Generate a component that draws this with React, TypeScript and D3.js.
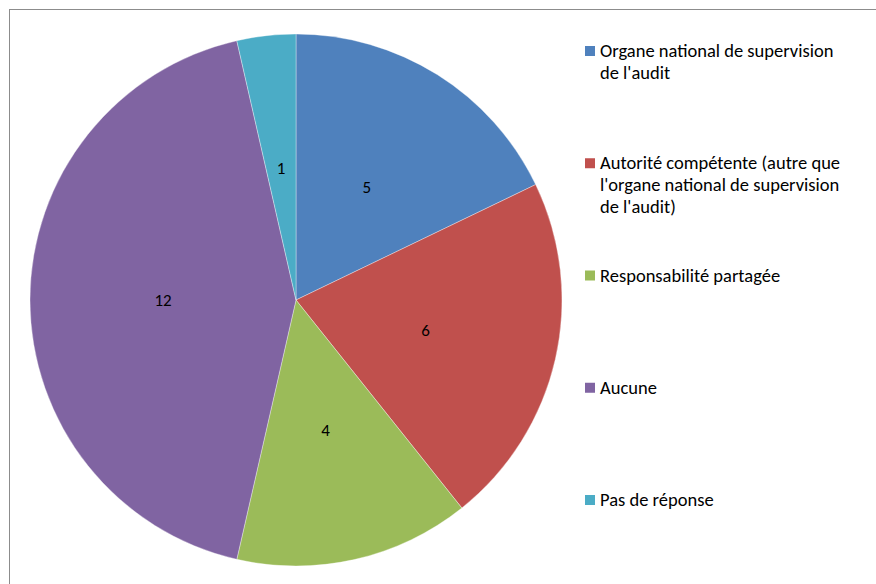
import React from "react";
import * as d3 from "d3";

const categories = [
  "Organe national de supervision de l'audit",
  "Autorité compétente (autre que l'organe national de supervision de l'audit)",
  "Responsabilité partagée",
  "Aucune",
  "Pas de réponse",
];
const legendLines = [
  ["Organe national de supervision", "de l'audit"],
  ["Autorité compétente (autre que", "l'organe national de supervision", "de l'audit)"],
  ["Responsabilité partagée"],
  ["Aucune"],
  ["Pas de réponse"],
];
const values = [5, 6, 4, 12, 1];
const colors = ["#4F81BD", "#C0504D", "#9BBB59", "#8064A2", "#4BACC6"];

export default function App() {
  const W = 876, H = 584;
  const cx = 296, cy = 300, r = 266;
  const pie = d3.pie<number>().sort(null).value((d) => d)(values);
  const arc = d3.arc<d3.PieArcDatum<number>>().innerRadius(0).outerRadius(r);
  const labelArc = d3.arc<d3.PieArcDatum<number>>().innerRadius(r * 0.5).outerRadius(r * 0.5);
  const legendY = d3.scaleLinear().domain([0, 4]).range([51, 500]);
  const font = "Carlito, Calibri, Lato, sans-serif";
  return (
    <svg width={W} height={H} style={{ position: "fixed", left: 0, top: 0 }}>
      <rect x={0} y={0} width={W} height={H} fill="#fff" />
      <rect x={9.5} y={9.5} width={W + 20} height={H + 20} fill="none" stroke="#8c8c8c" strokeWidth={1} />
      <g transform={`translate(${cx},${cy})`}>
        {pie.map((p, i) => (
          <path key={i} d={arc(p) || ""} fill={colors[i]} stroke="#ffffff" strokeOpacity={0.35} strokeWidth={1} />
        ))}
        {pie.map((p, i) => {
          const [x, y] = labelArc.centroid(p);
          return (
            <text key={i} x={x} y={y} dy="0.35em" textAnchor="middle" fontFamily={font} fontSize={17} fill="#000">
              {values[i]}
            </text>
          );
        })}
      </g>
      {categories.map((c, i) => {
        const y0 = legendY(i);
        return (
          <g key={c}>
            <rect x={585} y={y0 - 5} width={10} height={10} fill={colors[i]} />
            <text fontFamily={font} fontSize={18.5} fill="#000">
              {legendLines[i].map((l, j) => (
                <tspan key={j} x={600} y={y0 + 6 + j * 22}>{l}</tspan>
              ))}
            </text>
          </g>
        );
      })}
    </svg>
  );
}
